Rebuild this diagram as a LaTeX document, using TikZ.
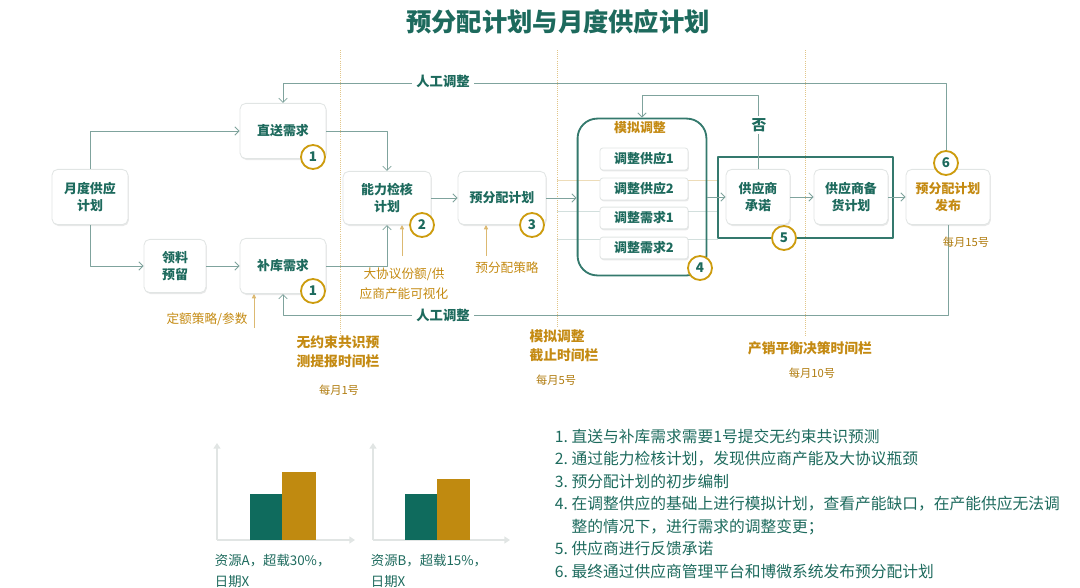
\documentclass[tikz,border=0pt]{standalone}
\usepackage{fontspec}
\setmainfont{Noto Sans CJK SC}
\usetikzlibrary{shadows,arrows.meta}

\definecolor{dgreen}{HTML}{1D6A5D}
\definecolor{gold}{HTML}{C48A12}
\definecolor{lline}{HTML}{7FA39D}
\definecolor{bline}{HTML}{E1E5E4}
\definecolor{bargreen}{HTML}{0F6B5D}
\definecolor{bargold}{HTML}{C08A10}

\tikzset{
  box/.style={draw=bline, line width=0.6pt, rounded corners=4pt, fill=white, text=dgreen,
    font=\fontsize{9.2}{12}\selectfont\bfseries, align=center,
    drop shadow={opacity=0.18, shadow xshift=0.6pt, shadow yshift=-1pt}},
  subbox/.style={box, minimum width=2.2cm, minimum height=0.5cm, rounded corners=2pt},
  numc/.style={circle, draw=gold!85!yellow, line width=1.3pt, fill=white, text=dgreen,
    font=\fontsize{9.5}{10}\selectfont\bfseries, minimum size=0.6cm, inner sep=0pt},
  flow/.style={draw=lline, line width=0.6pt, -{Straight Barb[length=3pt,width=6pt]}},
  oarrow/.style={draw=gold!60, line width=0.6pt, -{Triangle[length=3pt,width=3pt]}},
  tline/.style={draw=gold!50, line width=0.5pt, densely dotted},
  note/.style={text=gold, font=\fontsize{9}{14.2}\selectfont, align=center},
  ttl/.style={text=gold, font=\fontsize{9.8}{13.5}\selectfont\bfseries, align=center},
  day/.style={text=gold!90!black, font=\fontsize{8}{10}\selectfont},
  manual/.style={fill=white, text=dgreen, font=\fontsize{9.5}{11}\selectfont\bfseries, inner sep=3pt},
  axis/.style={draw=bline, line width=1.2pt, -{Triangle[length=4pt,width=5pt]}},
}

\begin{document}
\begin{tikzpicture}[x=0.025cm, y=-0.025cm, line join=round]
  \useasboundingbox (0,0) rectangle (1080,587);

  % Title
  \node[text=dgreen, font=\fontsize{18}{20}\selectfont\bfseries] (title) at (558,22) {预分配计划与月度供应计划};

  % Time bars
  \draw[tline] (340,50) -- (340,335);
  \draw[tline] (557,50) -- (557,327);
  \draw[tline] (805,50) -- (805,335);

  % faint guide lines through simulation box
  \draw[gold!30, line width=0.5pt] (557,180) -- (718,180);
  \draw[lline!35, line width=0.5pt] (557,211) -- (718,211);
  \draw[lline!35, line width=0.5pt] (557,239) -- (718,239);

  % Frames
  \node[draw=dgreen!90, line width=1.3pt, rounded corners=14pt, minimum width=3.22cm, minimum height=3.92cm] (moni) at (642,197) {};
  \node[draw=dgreen!90, line width=1.1pt, minimum width=4.38cm, minimum height=2.03cm] (ghbox) at (805.5,197.5) {};

  % Boxes
  \node[box, minimum width=1.9cm, minimum height=1.38cm] (yuedu) at (90,197) {月度供应\\计划};
  \node[box, minimum width=2.15cm, minimum height=1.38cm] (zhisong) at (283,131) {直送需求};
  \node[box, minimum width=1.55cm, minimum height=1.33cm] (lingliao) at (175,266) {领料\\预留};
  \node[box, minimum width=2.15cm, minimum height=1.38cm] (buku) at (283,266) {补库需求};
  \node[box, minimum width=2.2cm, minimum height=1.33cm] (nengli) at (387,198) {能力检核\\计划};
  \node[box, minimum width=2.2cm, minimum height=1.33cm] (yufen) at (502,198) {预分配计划};
  \node[box, minimum width=1.6cm, minimum height=1.38cm] (gys) at (758,197) {供应商\\承诺};
  \node[box, minimum width=1.85cm, minimum height=1.38cm] (beihuo) at (851,197) {供应商备\\货计划};
  \node[box, minimum width=2.1cm, minimum height=1.38cm, text=gold] (fabu) at (948,197) {预分配计划\\发布};

  % Simulation box content
  \node[text=gold, font=\fontsize{9.2}{11}\selectfont\bfseries] (monit) at (640,128) {模拟调整};
  \node[subbox] (sub1) at (644,159) {调整供应1};
  \node[subbox] (sub2) at (644,189) {调整供应2};
  \node[subbox] (sub3) at (644,218) {调整需求1};
  \node[subbox] (sub4) at (644,248) {调整需求2};

  % Connectors
  \draw[flow] (yuedu.north) |- (zhisong.west);
  \draw[flow] (yuedu.south) |- (lingliao.west);
  \draw[flow] (lingliao) -- (buku);
  \draw[flow] (zhisong.east) -| (nengli.north);
  \draw[flow] (buku.east) -| (nengli.south);
  \draw[flow] (nengli) -- (yufen);
  \draw[flow] (yufen.east) -- (yufen.east -| moni.west);
  \draw[flow] (gys.west -| moni.east) -- (gys.west);
  \draw[flow] (gys) -- (beihuo);
  \draw[flow] (beihuo) -- (fabu);

  % Feedback "no"
  \coordinate (nojoin) at (758,95);
  \draw[flow] (gys.north) -- (nojoin) -| (moni.north);
  \node[fill=white, text=dgreen, font=\fontsize{10.5}{12}\selectfont\bfseries, inner sep=2pt] (fou) at (759,125) {否};

  % Numbers
  \node[numc] (c1a) at (313,157) {1};
  \node[numc] (c1b) at (313,291) {1};
  \node[numc] (c2) at (422,225) {2};
  \node[numc] (c3) at (532,225) {3};
  \node[numc] (c4) at (700,268) {4};
  \node[numc] (c5) at (784,238) {5};
  \node[numc] (c6) at (946,163) {6};

  % Manual adjustment loops
  \coordinate (topr) at (946,83);
  \coordinate (botr) at (948,315);
  \draw[flow] (c6.north) -- (topr) -| (zhisong.north);
  \draw[flow] (fabu.south) -- (botr) -| (buku.south);
  \node[manual] (mtop) at (443,81) {人工调整};
  \node[manual] (mbot) at (443,315) {人工调整};

  % Inputs
  \node[note] (dinge) at (207,319) {定额策略/参数};
  \coordinate (dingeA) at (254,328);
  \draw[oarrow] (dingeA) -- (dingeA |- buku.south);
  \node[note] (dxy) at (404,284) {大协议份额/供\\应商产能可视化};
  \coordinate (dxyA) at (402,256);
  \draw[oarrow] (dxyA) -- (dxyA |- nengli.south);
  \node[note] (yfcl) at (507,268) {预分配策略};
  \coordinate (yfclA) at (486,256);
  \draw[oarrow] (yfclA) -- (yfclA |- yufen.south);

  % Time bar labels
  \node[ttl] (t1) at (338,352) {无约束共识预\\测提报时间栏};
  \node[day] (d1) at (339,390) {每月1号};
  \node[ttl, align=left] (t2) at (564,346) {模拟调整\\截止时间栏};
  \node[day] (d2) at (556,380) {每月5号};
  \node[ttl] (t3) at (810,348) {产销平衡决策时间栏};
  \node[day] (d3) at (812,373) {每月10号};
  \node[day] (d4) at (966,242) {每月15号};

  % Chart A
  \draw[axis] (217,540) -- (217,443);
  \draw[axis] (217,540) -- (355,540);
  \fill[bargreen] (250,494) rectangle (282,540);
  \fill[bargold] (282,472) rectangle (316,540);
  \node[anchor=north west, text=dgreen, align=left, font=\fontsize{9.5}{15}\selectfont] (capa) at (210,549) {资源A，超载30\%，\\日期X};

  % Chart B
  \draw[axis] (373,540) -- (373,443);
  \draw[axis] (373,540) -- (510,540);
  \fill[bargreen] (405,494) rectangle (437,540);
  \fill[bargold] (437,479) rectangle (470,540);
  \node[anchor=north west, text=dgreen, align=left, font=\fontsize{9.5}{15}\selectfont] (capb) at (366,549) {资源B，超载15\%，\\日期X};

  % Notes list
  \node[anchor=north west, text=dgreen, align=left, font=\fontsize{11.2}{16}\selectfont] (list) at (550,424) {%
    1.\ 直送与补库需求需要1号提交无约束共识预测\\
    2.\ 通过能力检核计划，发现供应商产能及大协议瓶颈\\
    3.\ 预分配计划的初步编制\\
    4.\ 在调整供应的基础上进行模拟计划，查看产能缺口，在产能供应无法调\\
    \phantom{4.\ }整的情况下，进行需求的调整变更；\\
    5.\ 供应商进行反馈承诺\\
    6.\ 最终通过供应商管理平台和博微系统发布预分配计划};
\end{tikzpicture}
\end{document}
